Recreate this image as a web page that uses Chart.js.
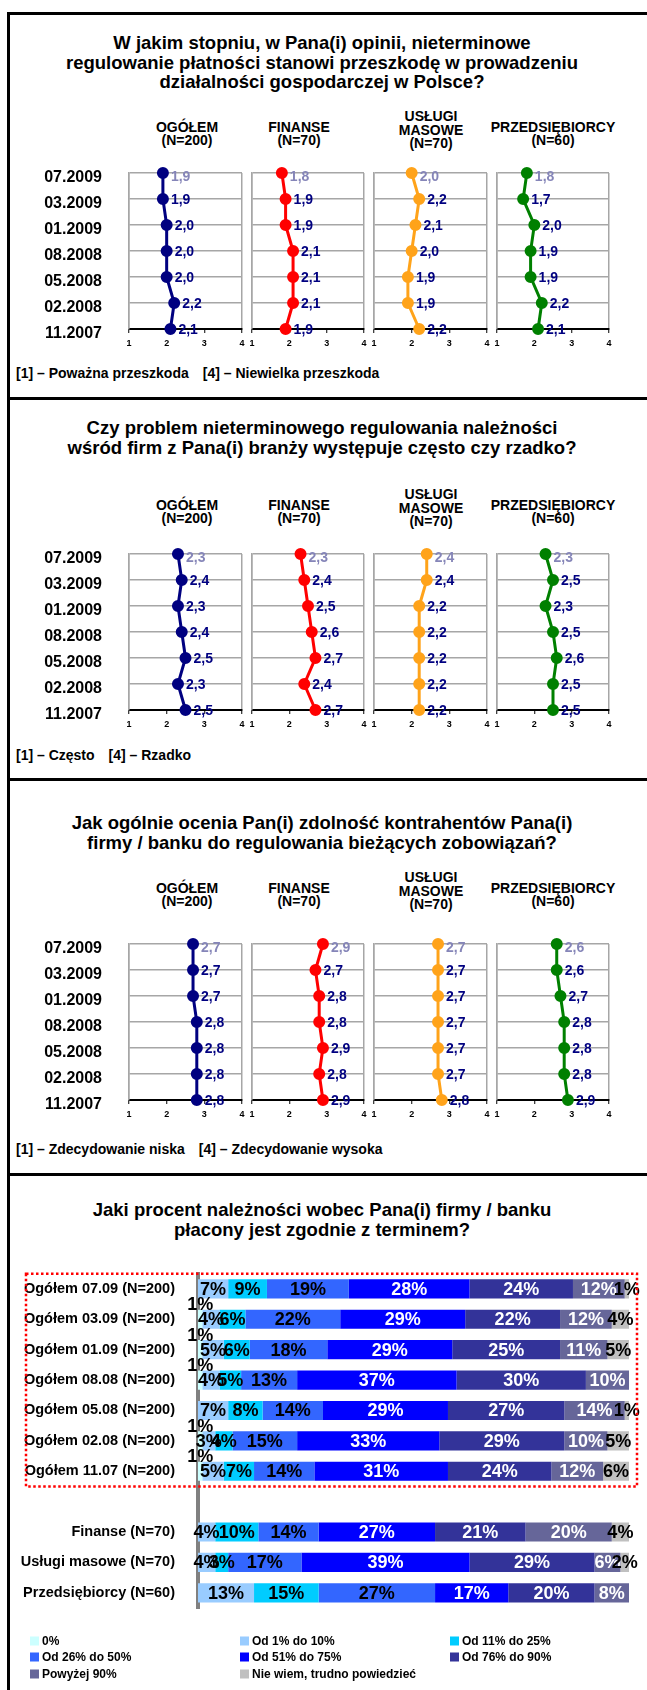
<!DOCTYPE html>
<html>
<head>
<meta charset="utf-8">
<script src="https://cdn.jsdelivr.net/npm/chart.js@4.4.0/dist/chart.umd.min.js"></script>
<style>
  body { margin: 0; background: #fff; font-family: "Liberation Sans", Arial, sans-serif; }
  #page { position: relative; width: 647px; height: 1690px; overflow: hidden; }
  canvas { position: absolute; }
  .line { position: absolute; background: #000; z-index: 5; }
  .title { position: absolute; left: 8px; width: 628px; text-align: center; font-weight: bold;
           font-size: 18.5px; line-height: 19.5px; color: #000; }
  .hdr { position: absolute; width: 150px; text-align: center; font-weight: bold;
         font-size: 14px; line-height: 13.5px; color: #000; }
  .note { position: absolute; left: 16px; font-weight: bold; font-size: 14px; line-height: 16px; color: #000; white-space: nowrap; }
  .note span { margin-left: 14px; }
</style>
</head>
<body>
<div id="page"></div>
<script>
// --- dane ---
const dates = ['07.2009', '03.2009', '01.2009', '08.2008', '05.2008', '02.2008', '11.2007'];
const groupNames = [['OGÓŁEM', '(N=200)'], ['FINANSE', '(N=70)'], ['USŁUGI', 'MASOWE', '(N=70)'], ['PRZEDSIĘBIORCY', '(N=60)']];
const scaleTicks = [1, 2, 3, 4];

// pytanie 1: przeszkoda (1 = poważna, 4 = niewielka)
const przeszkodaOgolem = [1.9, 1.9, 2.0, 2.0, 2.0, 2.2, 2.1];
const przeszkodaFinanse = [1.8, 1.9, 1.9, 2.1, 2.1, 2.1, 1.9];
const przeszkodaUslugi = [2.0, 2.2, 2.1, 2.0, 1.9, 1.9, 2.2];
const przeszkodaPrzeds = [1.8, 1.7, 2.0, 1.9, 1.9, 2.2, 2.1];

// pytanie 2: czesto / rzadko
const czestoOgolem = [2.3, 2.4, 2.3, 2.4, 2.5, 2.3, 2.5];
const czestoFinanse = [2.3, 2.4, 2.5, 2.6, 2.7, 2.4, 2.7];
const czestoUslugi = [2.4, 2.4, 2.2, 2.2, 2.2, 2.2, 2.2];
const czestoPrzeds = [2.3, 2.5, 2.3, 2.5, 2.6, 2.5, 2.5];

// pytanie 3: zdolnosc kontrahentow
const zdolnoscOgolem = [2.7, 2.7, 2.7, 2.8, 2.8, 2.8, 2.8];
const zdolnoscFinanse = [2.9, 2.7, 2.8, 2.8, 2.9, 2.8, 2.9];
const zdolnoscUslugi = [2.7, 2.7, 2.7, 2.7, 2.7, 2.7, 2.8];
const zdolnoscPrzeds = [2.6, 2.6, 2.7, 2.8, 2.8, 2.8, 2.9];

// pytanie 4: procent naleznosci placony w terminie
const barRows = ['Ogółem 07.09 (N=200)', 'Ogółem 03.09 (N=200)', 'Ogółem 01.09 (N=200)', 'Ogółem 08.08 (N=200)',
  'Ogółem 05.08 (N=200)', 'Ogółem 02.08 (N=200)', 'Ogółem 11.07 (N=200)', '',
  'Finanse (N=70)', 'Usługi masowe (N=70)', 'Przedsiębiorcy (N=60)'];
const segmentNames = ['0%', 'Od 1% do 10%', 'Od 11% do 25%', 'Od 26% do 50%', 'Od 51% do 75%',
  'Od 76% do 90%', 'Powyżej 90%', 'Nie wiem, trudno powiedzieć'];
const pct0 = [0, 1, 1, 1, 0, 1, 1, null, 0, 0, 0];
const pct1to10 = [7, 4, 5, 4, 7, 3, 5, null, 4, 4, 13];
const pct11to25 = [9, 6, 6, 5, 8, 4, 7, null, 10, 3, 15];
const pct26to50 = [19, 22, 18, 13, 14, 15, 14, null, 14, 17, 27];
const pct51to75 = [28, 29, 29, 37, 29, 33, 31, null, 27, 39, 17];
const pct76to90 = [24, 22, 25, 30, 27, 29, 24, null, 21, 29, 20];
const pctOver90 = [12, 12, 11, 10, 14, 10, 12, null, 20, 6, 8];
const pctDontKnow = [1, 4, 5, 0, 1, 5, 6, null, 4, 2, 0];

// --- wyglad ---
Chart.defaults.font.family = '"Liberation Sans", Arial, sans-serif';
const page = document.getElementById('page');
const lineColors = ['#000080', '#ff0000', '#ffa31a', '#008000'];
const segColors = ['#ccffff', '#99ccff', '#00ccff', '#3366ff', '#0000ff', '#333399', '#666699', '#c0c0c0'];
const plotLeft = [129, 252, 374, 497];
const plotWidth = [113, 112, 113, 112];
const hdrCenter = [187, 299, 431, 553];

const panels = [
  { titleTop: 33, hdrY: 141, plotTop: 173, noteY: 373,
    title: ['W jakim stopniu, w Pana(i) opinii, nieterminowe', 'regulowanie płatności stanowi przeszkodę w prowadzeniu', 'działalności gospodarczej w Polsce?'],
    note: ['[1] – Poważna przeszkoda', '[4] – Niewielka przeszkoda'],
    series: [przeszkodaOgolem, przeszkodaFinanse, przeszkodaUslugi, przeszkodaPrzeds] },
  { titleTop: 418, hdrY: 519, plotTop: 554, noteY: 755,
    title: ['Czy problem nieterminowego regulowania należności', 'wśród firm z Pana(i) branży występuje często czy rzadko?'],
    note: ['[1] – Często', '[4] – Rzadko'],
    series: [czestoOgolem, czestoFinanse, czestoUslugi, czestoPrzeds] },
  { titleTop: 813, hdrY: 902, plotTop: 944, noteY: 1149,
    title: ['Jak ogólnie ocenia Pan(i) zdolność kontrahentów Pana(i)', 'firmy / banku do regulowania bieżących zobowiązań?'],
    note: ['[1] – Zdecydowanie niska', '[4] – Zdecydowanie wysoka'],
    series: [zdolnoscOgolem, zdolnoscFinanse, zdolnoscUslugi, zdolnoscPrzeds] }
];

function addDiv(cls, css, html) {
  const d = document.createElement('div');
  d.className = cls;
  Object.assign(d.style, css);
  d.innerHTML = html;
  page.appendChild(d);
  return d;
}

function addCanvas(left, top, w, h) {
  const c = document.createElement('canvas');
  c.width = w; c.height = h;
  c.style.left = left + 'px'; c.style.top = top + 'px';
  page.appendChild(c);
  return c;
}

// etykiety wartosci obok punktow
const valueLabels = {
  id: 'valueLabels',
  afterDatasetsDraw(chart) {
    const ctx = chart.ctx;
    const meta = chart.getDatasetMeta(0);
    const data = chart.data.datasets[0].data;
    ctx.save();
    ctx.font = 'bold 14px "Liberation Sans", Arial, sans-serif';
    ctx.textAlign = 'left';
    ctx.textBaseline = 'middle';
    meta.data.forEach((pt, i) => {
      ctx.fillStyle = i === 0 ? '#8585b8' : '#000080';
      ctx.fillText(data[i].toFixed(1).replace('.', ','), pt.x + 8, pt.y + (i === 0 ? 4 : 1));
    });
    ctx.restore();
  }
};

// daty po lewej stronie pierwszego wykresu
const rowLabels = {
  id: 'rowLabels',
  afterDraw(chart) {
    const ctx = chart.ctx;
    const ys = chart.scales.y;
    ctx.save();
    ctx.font = 'bold 16px "Liberation Sans", Arial, sans-serif';
    ctx.textAlign = 'right';
    ctx.textBaseline = 'middle';
    ctx.fillStyle = '#000';
    chart.data.labels.forEach((lab, i) => {
      ctx.fillText(lab, chart.chartArea.left - 27, ys.getPixelForTick(i) + 5);
    });
    ctx.restore();
  }
};

function smallChart(p, k) {
  const L = plotLeft[k], W = plotWidth[k];
  const first = k === 0;
  const cLeft = first ? 20 : L - 8;
  const cTop = p.plotTop - 12;
  const cv = addCanvas(cLeft, cTop, L + W + 8 - cLeft, 12 + 156 + 26);
  const color = lineColors[k];
  new Chart(cv, {
    type: 'line',
    data: {
      labels: dates,
      datasets: [{
        data: p.series[k],
        borderColor: color,
        backgroundColor: color,
        borderWidth: 3,
        pointRadius: 4.5,
        pointBackgroundColor: color,
        pointBorderColor: color,
        tension: 0,
        clip: false
      }]
    },
    options: {
      indexAxis: 'y',
      responsive: false,
      animation: false,
      layout: { padding: { left: L - cLeft, right: 8, top: 12, bottom: 0 } },
      plugins: { legend: { display: false }, tooltip: { enabled: false } },
      scales: {
        x: {
          type: 'linear', min: scaleTicks[0], max: scaleTicks[scaleTicks.length - 1],
          afterFit: s => { s.height = 26; },
          afterBuildTicks: s => { s.ticks = scaleTicks.map(v => ({ value: v })); },
          ticks: { color: '#000', font: { size: 9, weight: 'bold' }, padding: 5 },
          grid: {
            color: c => (c.tick && (c.tick.value === 1 || c.tick.value === 4)) ? '#a6a6a6' : 'rgba(0,0,0,0)',
            lineWidth: 1.5, tickColor: '#000', tickLength: 4, tickWidth: 1
          },
          border: { color: '#000', width: 2 }
        },
        y: {
          type: 'category', offset: false,
          afterFit: s => { s.width = 0; },
          ticks: { display: false },
          grid: { color: '#a6a6a6', lineWidth: 1.5, drawTicks: false },
          border: { color: '#a6a6a6', width: 1.5 }
        }
      }
    },
    plugins: first ? [valueLabels, rowLabels] : [valueLabels]
  });
}

panels.forEach(p => {
  addDiv('title', { top: p.titleTop + 'px' }, p.title.join('<br>'));
  groupNames.forEach((g, k) => {
    const n = g.length;
    const top = p.hdrY - (n - 1) * 13.5 - 6.75 + (n === 3 ? 3 : 0);
    addDiv('hdr', { left: (hdrCenter[k] - 75) + 'px', top: top + 'px' }, g.join('<br>'));
  });
  addDiv('note', { top: (p.noteY - 8) + 'px' }, p.note[0] + '<span>' + p.note[1] + '</span>');
  for (let k = 0; k < 4; k++) smallChart(p, k);
});

// --- wykres slupkowy ---
addDiv('title', { top: '1200px' }, 'Jaki procent należności wobec Pana(i) firmy / banku<br>płacony jest zgodnie z terminem?');

const barTop = 1250;
const barSeries = [pct0, pct1to10, pct11to25, pct26to50, pct51to75, pct76to90, pctOver90, pctDontKnow];

const barDecor = {
  id: 'barDecor',
  afterDatasetsDraw(chart) {
    const ctx = chart.ctx;
    ctx.save();
    ctx.font = 'bold 18px "Liberation Sans", Arial, sans-serif';
    ctx.textAlign = 'center';
    ctx.textBaseline = 'middle';
    chart.data.datasets.forEach((ds, d) => {
      const meta = chart.getDatasetMeta(d);
      meta.data.forEach((el, i) => {
        const v = ds.data[i];
        if (v == null || v <= 0) return;
        const cx = (el.x + el.base) / 2;
        ctx.fillStyle = (d >= 4 && d <= 6) ? '#fff' : '#000';
        ctx.fillText(v + '%', cx, d === 0 ? el.y - 14 : el.y + 1);
      });
    });
    ctx.restore();
  },
  afterDraw(chart) {
    const ctx = chart.ctx;
    const ys = chart.scales.y;
    const step = ys.getPixelForTick(1) - ys.getPixelForTick(0);
    const top = ys.getPixelForTick(0) - step / 2;
    const bottom = ys.getPixelForTick(6) + step / 2;
    ctx.save();
    ctx.strokeStyle = '#ff0000';
    ctx.lineWidth = 2.5;
    ctx.setLineDash([2.5, 2.5]);
    ctx.strokeRect(26, top, 637 - 26, bottom - top);
    ctx.setLineDash([]);
    // legenda w trzech kolumnach
    const colX = [30, 240, 450];
    const rowY = [391, 407, 424];
    ctx.font = 'bold 12px "Liberation Sans", Arial, sans-serif';
    ctx.textAlign = 'left';
    ctx.textBaseline = 'middle';
    segmentNames.forEach((name, i) => {
      const x = colX[i % 3], y = rowY[Math.floor(i / 3)];
      ctx.fillStyle = segColors[i];
      ctx.fillRect(x, y - 4.5, 9, 9);
      ctx.fillStyle = '#000';
      ctx.fillText(name, x + 12, y + 1);
    });
    ctx.restore();
  }
};

const barCanvas = addCanvas(0, barTop, 647, 440);
new Chart(barCanvas, {
  type: 'bar',
  data: {
    labels: barRows,
    datasets: barSeries.map((s, i) => ({
      label: segmentNames[i],
      data: s,
      backgroundColor: segColors[i],
      borderWidth: 0,
      barPercentage: 0.63,
      categoryPercentage: 1
    }))
  },
  options: {
    indexAxis: 'y',
    responsive: false,
    animation: false,
    layout: { padding: { left: 0, right: 18, top: 14, bottom: 82 } },
    plugins: { legend: { display: false }, tooltip: { enabled: false } },
    scales: {
      x: { stacked: true, min: 0, max: 100, display: false },
      y: {
        stacked: true,
        afterFit: s => { s.width = 198; },
        ticks: { color: '#000', font: { size: 14.5, weight: 'bold' }, padding: 15, autoSkip: false },
        grid: { display: false },
        border: { color: '#808080', width: 4 }
      }
    }
  },
  plugins: [barDecor]
});

// ramki paneli
addDiv('line', { left: '7px', top: '12px', width: '3px', height: '1678px' }, '');
[12, 397, 778, 1173].forEach(y => addDiv('line', { left: '7px', top: y + 'px', width: '640px', height: '3px' }, ''));
</script>
</body>
</html>
